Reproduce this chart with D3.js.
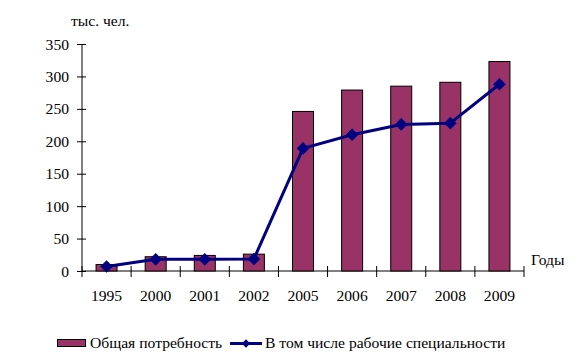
<!DOCTYPE html>
<html>
<head>
<meta charset="utf-8">
<script src="https://cdn.jsdelivr.net/npm/d3@7"></script>
<style>
  body { margin: 0; background: #fff; }
</style>
</head>
<body>
<svg id="chart" width="577" height="363"></svg>
<script>
// data
var years = ["1995", "2000", "2001", "2002", "2005", "2006", "2007", "2008", "2009"];
var totalNeed = [10, 22, 24, 26, 246, 279, 285, 291, 323];
var workers = [7, 18, 18, 18.5, 189, 210, 226, 228, 288];
var yTicks = [0, 50, 100, 150, 200, 250, 300, 350];

function drawChart() {
    var svg = d3.select("#chart");
    var left = 82, right = 524, plotTop = 44, bottom = 271;
    var serif = "'Liberation Serif', serif";

    var x = d3.scaleBand().domain(years).range([left, right]).paddingInner(0).paddingOuter(0);
    var y = d3.scaleLinear().domain([0, 350]).range([bottom, plotTop]);
    var cx = function(i) { return x(years[i]) + x.bandwidth() / 2; };

    // y axis
    var yAxis = svg.append("g").attr("transform", "translate(" + left + ",0)")
        .call(d3.axisLeft(y).tickValues(yTicks).tickSize(5).tickPadding(8));
    yAxis.select(".domain").attr("stroke", "#000").attr("d", "M0," + plotTop + "V" + bottom);
    yAxis.selectAll(".tick line").attr("x1", -5).attr("x2", 4).attr("stroke", "#000");

    // x axis
    var xAxis = svg.append("g").attr("transform", "translate(0," + bottom + ")")
        .call(d3.axisBottom(x).tickSize(0).tickPadding(19));
    xAxis.select(".domain").attr("stroke", "#000").attr("d", "M" + left + ",0H" + right);
    // tick marks between categories
    var edges = years.map(function(d) { return x(d); }).concat([right]);
    xAxis.selectAll(".sep").data(edges).enter().append("line")
        .attr("x1", function(d) { return d; }).attr("x2", function(d) { return d; })
        .attr("y1", -5).attr("y2", 6).attr("stroke", "#000");

    // bars
    var barW = 21;
    svg.append("g").selectAll("rect").data(totalNeed).enter().append("rect")
        .attr("x", function(d, i) { return cx(i) - barW / 2; })
        .attr("y", function(d) { return y(d); })
        .attr("width", barW)
        .attr("height", function(d) { return bottom - y(d); })
        .attr("fill", "#993366").attr("stroke", "#000").attr("stroke-width", 1);

    // line with diamond markers
    var line = d3.line()
        .x(function(d, i) { return cx(i); })
        .y(function(d) { return y(d); });
    svg.append("path").datum(workers).attr("d", line)
        .attr("fill", "none").attr("stroke", "#000080").attr("stroke-width", 3)
        .attr("stroke-linejoin", "round");
    var diamond = d3.symbol().type(d3.symbolSquare).size(80);
    svg.append("g").selectAll("path").data(workers).enter().append("path")
        .attr("d", diamond)
        .attr("transform", function(d, i) { return "translate(" + cx(i) + "," + y(d) + ") rotate(45)"; })
        .attr("fill", "#000080");

    // axis titles
    svg.append("text").attr("x", 71).attr("y", 26).text("тыс. чел.");
    svg.append("text").attr("x", 531).attr("y", 265).text("Годы");

    // legend
    var lg = svg.append("g");
    lg.append("rect").attr("x", 57.5).attr("y", 339.5).attr("width", 28).attr("height", 7)
        .attr("fill", "#993366").attr("stroke", "#000");
    lg.append("text").attr("x", 90).attr("y", 348).text("Общая потребность");
    lg.append("line").attr("x1", 230).attr("x2", 262).attr("y1", 343.5).attr("y2", 343.5)
        .attr("stroke", "#000080").attr("stroke-width", 3);
    lg.append("path").attr("d", d3.symbol().type(d3.symbolSquare).size(36))
        .attr("transform", "translate(246,343.5) rotate(45)").attr("fill", "#000080");
    lg.append("text").attr("x", 265).attr("y", 348).text("В том числе рабочие специальности");

    // one font for every text
    svg.selectAll("text")
        .style("font-family", serif)
        .style("font-size", "15.6px")
        .style("fill", "#000");
}

drawChart();
</script>
</body>
</html>
